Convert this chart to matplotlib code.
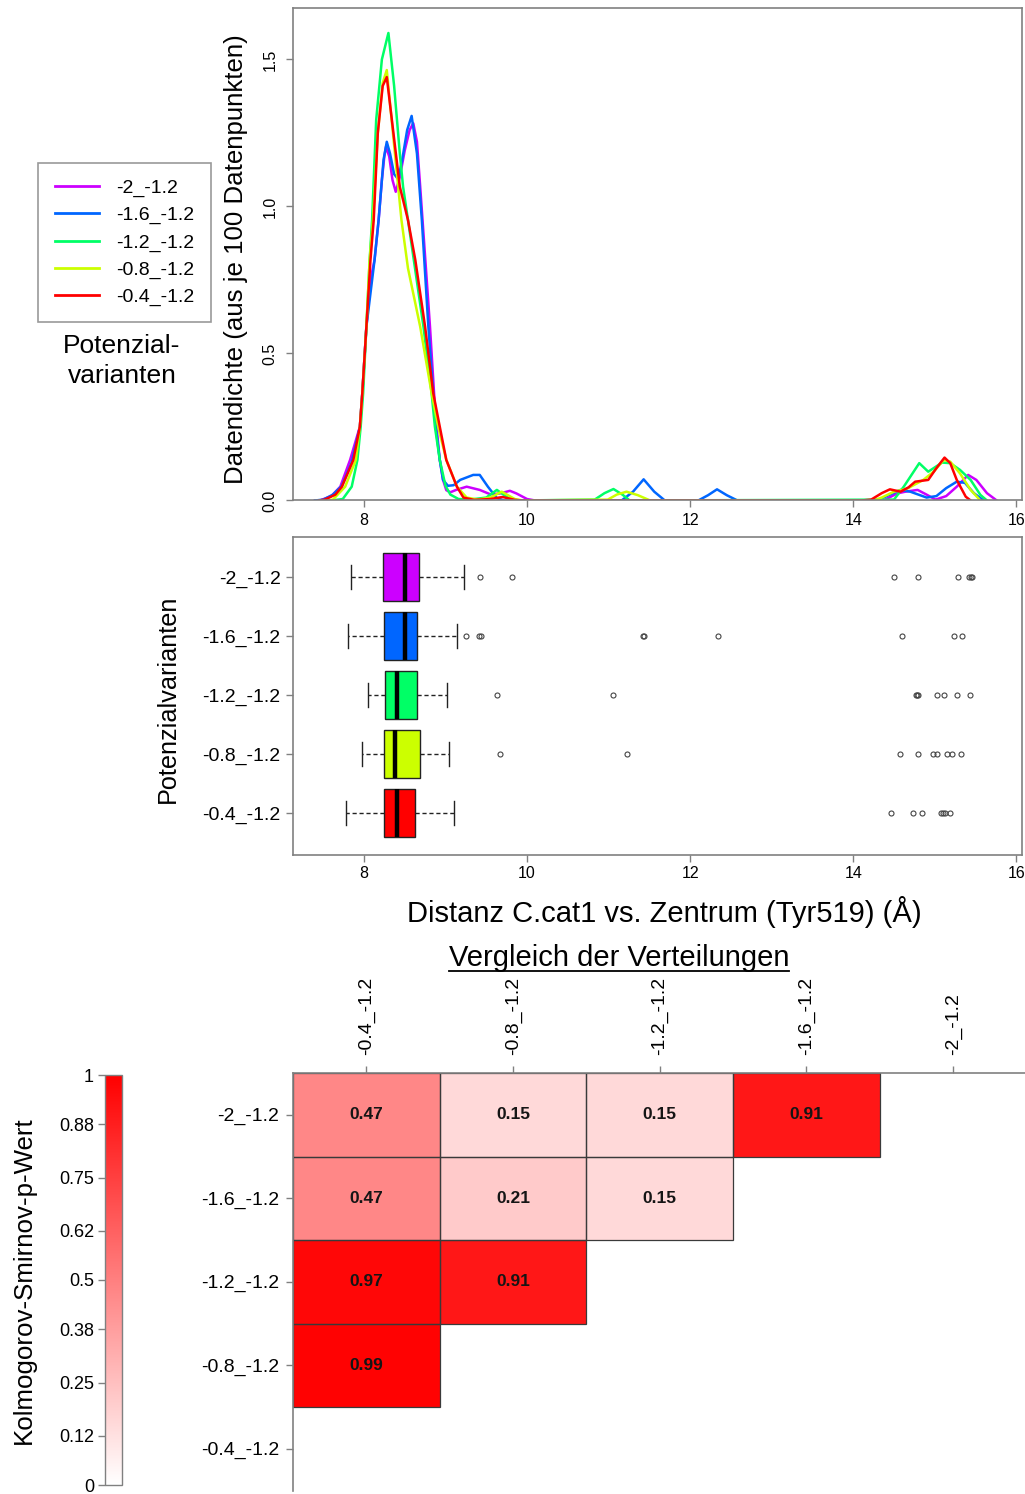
import numpy as np
import matplotlib
matplotlib.use("Agg")
import matplotlib.pyplot as plt
from matplotlib.colors import LinearSegmentedColormap
from matplotlib.lines import Line2D
from matplotlib.patches import Rectangle

plt.rcParams["font.family"] = ["Liberation Sans", "DejaVu Sans"]

# ---------------------------------------------------------------- data
variants = ["-2_-1.2", "-1.6_-1.2", "-1.2_-1.2", "-0.8_-1.2", "-0.4_-1.2"]
colors = ["#CC00FF", "#0066FF", "#00FF66", "#CCFF00", "#FF0000"]

# density curves (distance in Angstrom, density)
dens_x_m20 = [7.40, 7.46, 7.60, 7.71, 7.83, 7.95, 7.98, 8.03, 8.08, 8.13, 8.18, 8.22, 8.25, 8.27,
              8.31, 8.35, 8.39, 8.44, 8.50, 8.56, 8.605, 8.65, 8.69, 8.76, 8.81, 8.86, 8.89,
              8.93, 8.97, 9.01, 9.06, 9.13, 9.26, 9.42, 9.55, 9.67, 9.79, 9.87, 10.00, 10.10,
              14.37, 14.54, 14.64, 14.79, 14.90, 15.01, 15.14, 15.27, 15.41, 15.51, 15.64, 15.76]
dens_y_m20 = [0.0, 0.0, 0.015, 0.047, 0.138, 0.251, 0.365, 0.591, 0.75, 0.818, 0.954, 1.09, 1.17, 1.203,
              1.17, 1.09, 1.05, 1.10, 1.19, 1.26, 1.283, 1.22, 1.067, 0.79, 0.591, 0.365, 0.251,
              0.138, 0.07, 0.035, 0.028, 0.036, 0.047, 0.036, 0.021, 0.024, 0.033, 0.024, 0.005, 0.0,
              0.0, 0.024, 0.03, 0.036, 0.02, 0.003, 0.015, 0.047, 0.087, 0.07, 0.025, 0.0]

dens_x_m16 = [7.40, 7.50, 7.62, 7.73, 7.85, 7.95, 7.98, 8.03, 8.13, 8.18, 8.24, 8.28, 8.32, 8.37,
              8.42, 8.47, 8.53, 8.585, 8.65, 8.71, 8.74, 8.79, 8.85, 8.88, 8.93, 8.97, 9.03,
              9.10, 9.18, 9.34, 9.42, 9.52, 9.63, 9.72,
              11.16, 11.30, 11.43, 11.56, 11.69, 12.10, 12.22, 12.33, 12.45, 12.58,
              14.29, 14.45, 14.58, 14.70, 14.90, 15.02, 15.14, 15.27, 15.37, 15.48, 15.60]
dens_y_m16 = [0.0, 0.003, 0.02, 0.05, 0.13, 0.25, 0.365, 0.591, 0.818, 0.954, 1.158, 1.22, 1.18, 1.11,
              1.093, 1.16, 1.26, 1.308, 1.18, 0.954, 0.818, 0.591, 0.365, 0.251, 0.138, 0.07, 0.05,
              0.052, 0.07, 0.087, 0.087, 0.047, 0.008, 0.0,
              0.0, 0.03, 0.072, 0.03, 0.0, 0.0, 0.018, 0.038, 0.018, 0.0,
              0.0, 0.02, 0.036, 0.03, 0.01, 0.015, 0.042, 0.064, 0.06, 0.025, 0.0]

dens_x_m12 = [7.60, 7.74, 7.85, 7.92, 7.96, 7.99, 8.03, 8.07, 8.10, 8.15, 8.22, 8.30, 8.37, 8.44,
              8.48, 8.54, 8.60, 8.73, 8.83, 8.87, 8.93, 9.00, 9.06, 9.16, 9.30, 9.50, 9.63, 9.79, 9.90,
              10.83, 10.95, 11.06, 11.17, 11.26,
              14.50, 14.62, 14.81, 14.92, 15.09, 15.19, 15.31, 15.44, 15.56, 15.64]
dens_y_m12 = [0.0, 0.005, 0.047, 0.138, 0.251, 0.365, 0.591, 0.818, 0.954, 1.294, 1.50, 1.59, 1.41, 1.18,
              1.067, 0.954, 0.84, 0.591, 0.365, 0.251, 0.138, 0.05, 0.02, 0.005, 0.003, 0.01, 0.036, 0.005, 0.0,
              0.003, 0.025, 0.039, 0.02, 0.0,
              0.003, 0.047, 0.127, 0.098, 0.129, 0.127, 0.104, 0.07, 0.019, 0.0]

dens_x_m08 = [7.55, 7.62, 7.77, 7.90, 7.95, 7.98, 8.03, 8.07, 8.11, 8.17, 8.23, 8.28, 8.34, 8.42,
              8.46, 8.54, 8.69, 8.83, 8.91, 9.01, 9.14, 9.26, 9.40, 9.55, 9.69, 9.85, 9.95,
              10.99, 11.10, 11.22, 11.36, 11.51,
              14.25, 14.35, 14.50, 14.66, 14.86, 14.99, 15.11, 15.19, 15.31, 15.44, 15.56]
dens_y_m08 = [0.0, 0.003, 0.047, 0.138, 0.251, 0.365, 0.591, 0.818, 0.954, 1.25, 1.42, 1.464, 1.294, 1.067,
              0.954, 0.79, 0.591, 0.365, 0.251, 0.138, 0.047, 0.01, 0.003, 0.01, 0.03, 0.005, 0.0,
              0.003, 0.02, 0.03, 0.018, 0.0,
              0.0, 0.01, 0.03, 0.04, 0.07, 0.099, 0.138, 0.132, 0.092, 0.036, 0.0]

dens_x_m04 = [7.45, 7.52, 7.65, 7.73, 7.87, 7.95, 7.98, 8.03, 8.08, 8.12, 8.17, 8.23, 8.28, 8.34,
              8.44, 8.54, 8.63, 8.75, 8.85, 8.93, 9.01, 9.14, 9.22, 9.35, 9.55, 9.70, 9.85, 9.95,
              14.10, 14.22, 14.35, 14.45, 14.58, 14.68, 14.76, 14.84, 14.92, 15.02, 15.12, 15.19,
              15.27, 15.38, 15.44]
dens_y_m04 = [0.0, 0.003, 0.02, 0.047, 0.138, 0.251, 0.365, 0.591, 0.818, 0.954, 1.25, 1.41, 1.44, 1.30,
              1.067, 0.954, 0.818, 0.591, 0.365, 0.251, 0.138, 0.047, 0.01, 0.002, 0.005, 0.012, 0.002, 0.0,
              0.0, 0.003, 0.025, 0.038, 0.03, 0.045, 0.064, 0.067, 0.07, 0.11, 0.146, 0.127,
              0.07, 0.013, 0.0]

dens_x = [dens_x_m20, dens_x_m16, dens_x_m12, dens_x_m08, dens_x_m04]
dens_y = [dens_y_m20, dens_y_m16, dens_y_m12, dens_y_m08, dens_y_m04]

# box plot summaries, same order as variants
box_whislo = [7.84, 7.80, 8.05, 7.98, 7.78]
box_q1 = [8.23, 8.25, 8.26, 8.24, 8.24]
box_med = [8.50, 8.50, 8.40, 8.38, 8.41]
box_q3 = [8.67, 8.65, 8.65, 8.69, 8.62]
box_whishi = [9.23, 9.14, 9.02, 9.04, 9.11]
box_fliers = [
    [9.42, 9.81, 14.50, 14.80, 15.29, 15.42, 15.44, 15.46],
    [9.25, 9.41, 9.43, 11.42, 11.44, 12.34, 14.60, 15.23, 15.33],
    [9.63, 11.06, 14.77, 14.78, 14.79, 15.03, 15.11, 15.27, 15.43],
    [9.67, 11.22, 14.58, 14.80, 14.98, 15.03, 15.15, 15.21, 15.32],
    [14.46, 14.73, 14.84, 15.08, 15.10, 15.12, 15.19],
]

# Kolmogorov-Smirnov p-values
ks_rows = ["-2_-1.2", "-1.6_-1.2", "-1.2_-1.2", "-0.8_-1.2", "-0.4_-1.2"]
ks_cols = ["-0.4_-1.2", "-0.8_-1.2", "-1.2_-1.2", "-1.6_-1.2", "-2_-1.2"]
ks_p_m20 = [0.47, 0.15, 0.15, 0.91, np.nan]
ks_p_m16 = [0.47, 0.21, 0.15, np.nan, np.nan]
ks_p_m12 = [0.97, 0.91, np.nan, np.nan, np.nan]
ks_p_m08 = [0.99, np.nan, np.nan, np.nan, np.nan]
ks_p_m04 = [np.nan, np.nan, np.nan, np.nan, np.nan]
cbar_ticks = [0, 0.12, 0.25, 0.38, 0.5, 0.62, 0.75, 0.88, 1]

# ---------------------------------------------------------------- figure
W, H = 1025, 1494
fig = plt.figure(figsize=(W / 100, H / 100), dpi=100)


def fx(px):
    return px / W


def fy(py):
    return 1 - py / H


SPINE = "#808080"
TICK_FS = 11.5
LAB_FS = 18.6
BIG_FS = 21
CAT_FS = 14
XLIM = (7.13, 16.07)


def style_box(ax):
    for s in ax.spines.values():
        s.set_color(SPINE)
        s.set_linewidth(1.2)
    ax.tick_params(direction="out", length=5, width=1, color=SPINE, labelsize=TICK_FS)


# density panel
ax1 = fig.add_axes([fx(293), fy(500.5), fx(1022 - 293), (500.5 - 8) / H])
for xs, ys, c in zip(dens_x, dens_y, colors):
    ax1.plot(xs, ys, color=c, lw=1.8, solid_joinstyle="round")
ax1.set_xlim(*XLIM)
ax1.set_ylim(0, 1.675)
ax1.set_xticks([8, 10, 12, 14, 16])
ax1.set_yticks([0, 0.5, 1.0, 1.5])
ax1.set_yticklabels(["0.0", "0.5", "1.0", "1.5"], rotation=90, va="center")
style_box(ax1)
ax1.tick_params(axis="x", pad=4)
ax1.tick_params(axis="y", pad=6)
ax1.set_ylabel("Datendichte (aus je 100 Datenpunkten)", fontsize=LAB_FS)
ax1.yaxis.label.set_va("center")
ax1.yaxis.set_label_coords((236 - 293) / (1022 - 293), 0.49)

handles = [Line2D([], [], color=c, lw=2) for c in colors]
leg = fig.legend(handles, variants, loc="upper left",
                 bbox_to_anchor=(fx(38), fy(163)), fontsize=CAT_FS,
                 frameon=True, fancybox=False, handlelength=2.3,
                 handletextpad=0.85, labelspacing=0.48, borderpad=0.85,
                 borderaxespad=0)
leg.get_frame().set_edgecolor(SPINE)
leg.get_frame().set_linewidth(1.2)
fig.text(fx(122), fy(361), "Potenzial-\nvarianten", ha="center", va="center",
         fontsize=19, linespacing=1.3)

# box plot panel
ax2 = fig.add_axes([fx(293), fy(855), fx(1022 - 293), (855 - 537) / H])
stats = []
for i in range(len(variants)):
    stats.append(dict(med=box_med[i], q1=box_q1[i], q3=box_q3[i],
                      whislo=box_whislo[i], whishi=box_whishi[i],
                      fliers=box_fliers[i]))
positions = [5, 4, 3, 2, 1]
bp = ax2.bxp(stats, positions=positions, vert=False, widths=0.82,
             capwidths=0.4, patch_artist=True, showfliers=True,
             boxprops=dict(edgecolor="#222222", linewidth=1.0),
             medianprops=dict(color="black", linewidth=3.2),
             whiskerprops=dict(color="#222222", linestyle=(0, (3, 2)), linewidth=1.0),
             capprops=dict(color="#222222", linewidth=1.0),
             flierprops=dict(marker="o", markersize=3.6, markerfacecolor="none",
                             markeredgecolor="#444444", markeredgewidth=0.8))
for patch, c in zip(bp["boxes"], colors):
    patch.set_facecolor(c)
ax2.set_xlim(*XLIM)
ax2.set_ylim(0.29, 5.68)
ax2.set_xticks([8, 10, 12, 14, 16])
ax2.set_yticks(positions)
ax2.set_yticklabels(variants)
style_box(ax2)
ax2.tick_params(axis="y", labelsize=CAT_FS, pad=4)
ax2.tick_params(axis="x", pad=3)
ax2.set_ylabel("Potenzialvarianten", fontsize=18.2)
ax2.yaxis.label.set_va("center")
ax2.yaxis.set_label_coords((168 - 293) / (1022 - 293), 0.49)
ax2.set_xlabel("Distanz C.cat1 vs. Zentrum (Tyr519) (Å)", fontsize=BIG_FS)
ax2.xaxis.label.set_va("center")
ax2.xaxis.set_label_coords((664 - 293) / (1022 - 293), -(912 - 855) / (855 - 537))

# heat map of p-values
fig.text(fx(619), fy(958), "Vergleich der Verteilungen", ha="center", va="center",
         fontsize=BIG_FS)
fig.add_artist(Line2D([fx(449), fx(789)], [fy(971), fy(971)], color="black", lw=1.3))

cmap = LinearSegmentedColormap.from_list("white_red", ["#FFFFFF", "#FF0000"])
P = np.ma.masked_invalid(np.array([ks_p_m20, ks_p_m16, ks_p_m12, ks_p_m08, ks_p_m04]))
ax3 = fig.add_axes([fx(293), fy(1490.5), fx(1026.5 - 293), (1490.5 - 1073) / H])
mesh = ax3.pcolormesh(np.arange(6), np.arange(6), P, cmap=cmap, vmin=0, vmax=1,
                      edgecolors="none")
for r in range(P.shape[0]):
    for c in range(P.shape[1]):
        if not np.ma.is_masked(P[r, c]):
            ax3.add_patch(Rectangle((c, r), 1, 1, fill=False, edgecolor="#3a3a3a",
                                    linewidth=0.9))
            ax3.text(c + 0.5, r + 0.5, f"{P[r, c]:.2f}", ha="center", va="center",
                     fontsize=12.5, fontweight="bold", color="#151515")
ax3.set_xlim(0, 5)
ax3.set_ylim(5, 0)
ax3.xaxis.tick_top()
ax3.set_xticks(np.arange(5) + 0.5)
ax3.set_xticklabels(ks_cols, rotation=90, fontsize=CAT_FS)
ax3.set_yticks(np.arange(5) + 0.5)
ax3.set_yticklabels(ks_rows, fontsize=CAT_FS)
for side in ("right", "bottom"):
    ax3.spines[side].set_visible(False)
for side in ("top", "left"):
    ax3.spines[side].set_color(SPINE)
    ax3.spines[side].set_linewidth(1.2)
ax3.tick_params(direction="out", length=5, width=1, color=SPINE, pad=5)
ax3.tick_params(axis="x", pad=8)

cax = fig.add_axes([fx(105), fy(1485), fx(122 - 105), (1485 - 1075) / H])
cb = fig.colorbar(mesh, cax=cax, ticks=cbar_ticks)
cb.outline.set_edgecolor(SPINE)
cb.outline.set_linewidth(1.0)
cax.yaxis.set_ticks_position("left")
cax.yaxis.set_label_position("left")
cax.set_yticklabels([f"{t:g}" for t in cbar_ticks])
cax.tick_params(direction="out", length=5, width=1, color=SPINE, labelsize=13, pad=3)
cax.set_ylabel("Kolmogorov-Smirnov-p-Wert", fontsize=LAB_FS)
cax.yaxis.label.set_va("center")
cax.yaxis.set_label_coords((24 - 105) / (122 - 105), 0.5)

fig.savefig("out.png", dpi=100)
